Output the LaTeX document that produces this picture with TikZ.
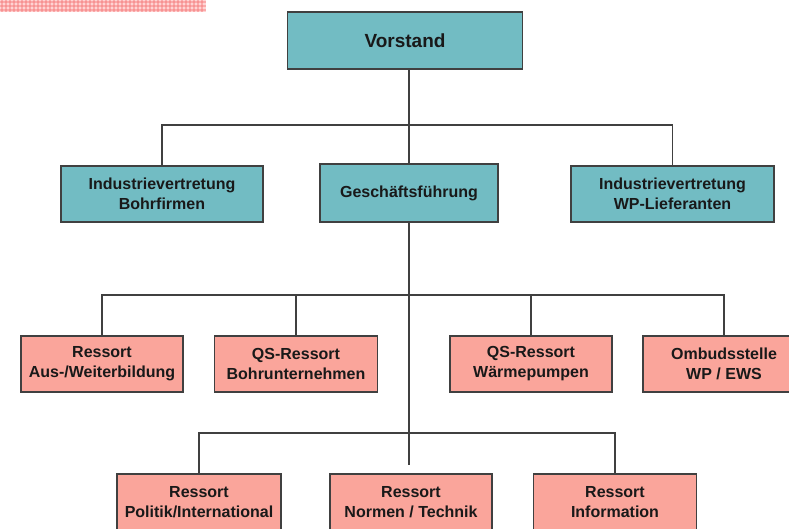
\documentclass[tikz,border=0pt]{standalone}
\usepackage{fontspec}
\setmainfont{Liberation Sans}
\definecolor{tealbox}{RGB}{114,188,195}
\definecolor{pinkbox}{RGB}{250,165,155}
\definecolor{linegray}{RGB}{64,64,64}
\definecolor{barpink}{RGB}{255,212,212}
\definecolor{barstripe}{RGB}{245,120,120}
\begin{document}
\begin{tikzpicture}[x=1pt,y=-1pt,
  boxbase/.style={draw=linegray, line width=1.5pt, align=center, inner sep=0pt,
    font=\bfseries\fontsize{16}{20}\selectfont, text=black!90},
  tealnode/.style={boxbase, fill=tealbox, minimum height=56pt},
  pinknode/.style={boxbase, fill=pinkbox, minimum width=162pt, minimum height=56pt},
  conn/.style={draw=linegray, line width=1.5pt}]
\path[use as bounding box] (0,0) rectangle (789,528);
\clip (0,0) rectangle (789,528);
% pink bar
\fill[barpink] (0,0) rectangle (206,12);
\foreach \i in {1.5,5.5,...,205} {\fill[barstripe, opacity=0.45] (\i-1,0) rectangle (\i+1,12);}
\foreach \j in {1.5,5.5,9.5} {\fill[barstripe, opacity=0.45] (0,\j-1) rectangle (206,\j+1);}
% nodes
\node[tealnode, minimum width=235pt, minimum height=57pt, font=\bfseries\fontsize{19}{22}\selectfont] (V) at (405,40.5) {Vorstand};
\node[tealnode, minimum width=202pt] (IB) at (162,194) {Industrievertretung\\Bohrfirmen};
\node[tealnode, minimum width=178pt, minimum height=58pt] (GF) at (409,193) {Geschäftsführung};
\node[tealnode, minimum width=203pt] (IW) at (672.5,194) {Industrievertretung\\WP-Lieferanten};
\node[pinknode] (R1) at (102,364) {Ressort\\Aus-/Weiterbildung};
\node[pinknode, minimum width=163pt] (R2) at (296,364) {QS-Ressort\\Bohrunternehmen};
\node[pinknode] (R3) at (531,364) {QS-Ressort\\Wärmepumpen};
\node[pinknode] (R4) at (724,364) {Ombudsstelle\\WP / EWS};
\node[pinknode, minimum width=164pt] (B1) at (199,502) {Ressort\\Politik/International};
\node[pinknode] (B2) at (411,502) {Ressort\\Normen / Technik};
\node[pinknode, minimum width=163pt] (B3) at (615,502) {Ressort\\Information};
% coordinates
\coordinate (h1) at (409,125);
\coordinate (h2) at (409,295);
\coordinate (h3) at (409,433);
\coordinate (vend) at (409,465);
% connectors
\draw[conn] (GF.north |- V.south) -- (GF.north);
\draw[conn] (IB.north) |- (h1) -| (IW.north);
\draw[conn] (GF.south) -- (vend);
\draw[conn] (R1.north) |- (h2) -| (R4.north);
\draw[conn] (R2.north) -- (R2.north |- h2);
\draw[conn] (R3.north) -- (R3.north |- h2);
\draw[conn] (B1.north) |- (h3) -| (B3.north);
\end{tikzpicture}
\end{document}
